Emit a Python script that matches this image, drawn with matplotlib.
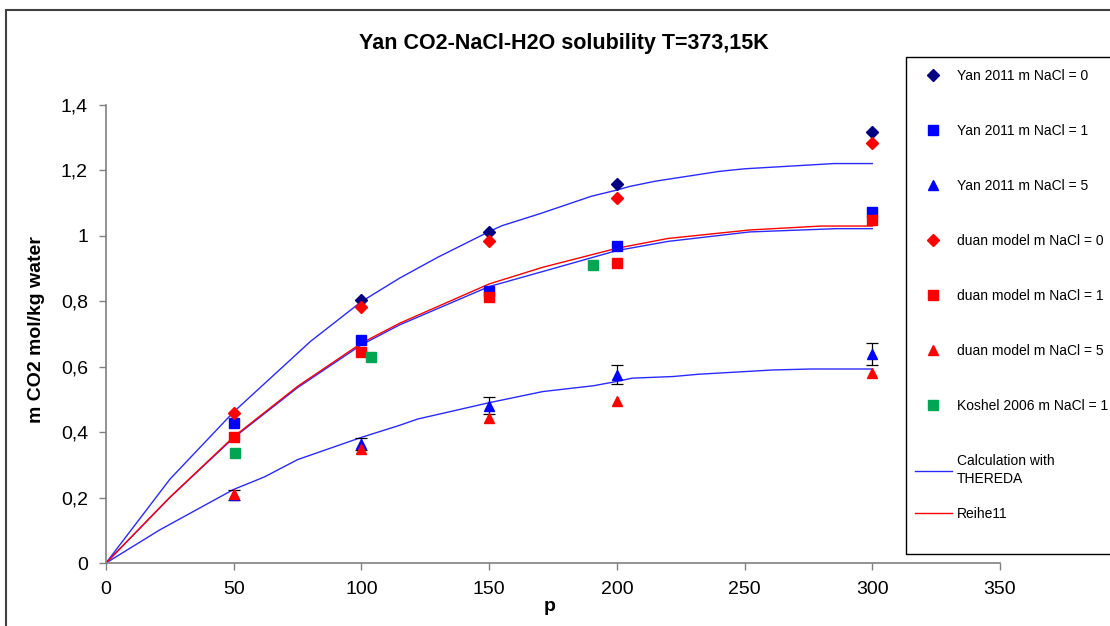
import matplotlib
matplotlib.use('Agg')
import matplotlib.pyplot as plt
from matplotlib.patches import Rectangle
from matplotlib.ticker import FuncFormatter

plt.rcParams['font.family'] = ['Liberation Sans', 'DejaVu Sans']

# measured data points (p in bar, m CO2 in mol/kg water)
p_yan = [50, 100, 150, 200, 300]
yan_0 = [None, 0.805, 1.013, 1.159, 1.316]
yan_1 = [0.429, 0.682, 0.830, 0.970, 1.074]
yan_5 = [0.208, 0.364, 0.481, 0.575, 0.639]
yan_5_err = [0.015, 0.018, 0.025, 0.029, 0.033]

p_duan = [50, 100, 150, 200, 300]
duan_0 = [0.460, 0.782, 0.983, 1.117, 1.284]
duan_1 = [0.385, 0.645, 0.812, 0.916, 1.049]
duan_5 = [0.211, 0.350, 0.444, 0.496, 0.581]

p_koshel = [50.4, 103.6, 190.8]
koshel_1 = [0.337, 0.629, 0.912]

# THEREDA calculations
p_calc0 = [0, 25, 50, 80, 100, 115, 130, 150, 155, 170, 190, 200, 205, 215, 240, 250, 285, 300]
calc_0 = [0, 0.256, 0.462, 0.677, 0.799, 0.871, 0.935, 1.013, 1.031, 1.068, 1.121, 1.140, 1.151, 1.167, 1.197, 1.205, 1.221, 1.221]

p_calc1 = [0, 25, 50, 75, 100, 115, 150, 171, 200, 220, 252, 286, 300]
calc_1 = [0, 0.200, 0.383, 0.536, 0.667, 0.728, 0.845, 0.891, 0.955, 0.983, 1.012, 1.022, 1.022]

p_calc5 = [0, 21, 50, 62, 75, 100, 115, 122, 150, 171, 191, 200, 206, 222, 232, 261, 276, 300]
calc_5 = [0, 0.101, 0.225, 0.263, 0.316, 0.384, 0.421, 0.440, 0.490, 0.524, 0.542, 0.555, 0.565, 0.570, 0.577, 0.590, 0.593, 0.593]

p_reihe = [0, 25, 50, 75, 100, 115, 150, 171, 200, 220, 252, 280, 300]
reihe11 = [0, 0.201, 0.386, 0.540, 0.672, 0.733, 0.853, 0.904, 0.962, 0.992, 1.018, 1.030, 1.030]

W, H = 1110, 626
fig = plt.figure(figsize=(W / 100, H / 100), dpi=100)
ax = fig.add_axes([106 / W, (H - 563) / H, (1000 - 106) / W, (563 - 105) / H])

blue_line = '#2a2aff'
ax.plot(p_calc0, calc_0, color=blue_line, lw=1.0, zorder=2, label='Calculation with\nTHEREDA')
ax.plot(p_calc1, calc_1, color=blue_line, lw=1.0, zorder=2)
ax.plot(p_calc5, calc_5, color=blue_line, lw=1.0, zorder=2)
ax.plot(p_reihe, reihe11, color='#ff0000', lw=1.0, zorder=2, label='Reihe11')

ax.plot(p_yan[1:], yan_0[1:], 'D', color='#000080', ms=6, ls='none', zorder=4, label='Yan 2011 m NaCl = 0')
ax.plot(p_yan, yan_1, 's', color='#0000ff', ms=6.5, ls='none', zorder=4, label='Yan 2011 m NaCl = 1')
ax.errorbar(p_yan, yan_5, yerr=yan_5_err, fmt='none', ecolor='black', elinewidth=0.9,
            capsize=4, capthick=0.9, zorder=3)
ax.plot(p_yan, yan_5, '^', color='#0000ff', ms=7.5, ls='none', zorder=4, label='Yan 2011 m NaCl = 5')
ax.plot(p_duan, duan_0, 'D', color='#ff0000', ms=6, ls='none', zorder=5, label='duan model m NaCl = 0')
ax.plot(p_duan, duan_1, 's', color='#ff0000', ms=6.5, ls='none', zorder=5, label='duan model m NaCl = 1')
ax.plot(p_duan, duan_5, '^', color='#ff0000', ms=7.5, ls='none', zorder=5, label='duan model m NaCl = 5')
ax.plot(p_koshel, koshel_1, 's', color='#00a651', ms=6.5, ls='none', zorder=5, label='Koshel 2006 m NaCl = 1')

ax.set_xlim(0, 350)
ax.set_ylim(0, 1.4)
ax.set_xticks(range(0, 351, 50))
ax.set_yticks([0, 0.2, 0.4, 0.6, 0.8, 1.0, 1.2, 1.4])


def comma(v, pos):
    s = f'{v:.1f}'
    if s.endswith('.0'):
        s = s[:-2]
    return s.replace('.', ',')


ax.yaxis.set_major_formatter(FuncFormatter(comma))
for s in ['top', 'right']:
    ax.spines[s].set_visible(False)
for s in ['left', 'bottom']:
    ax.spines[s].set_color('#808080')
    ax.spines[s].set_linewidth(1.2)
ax.tick_params(axis='both', direction='out', length=5, width=1, color='#808080', labelsize=14)
ax.tick_params(axis='x', pad=8)
ax.tick_params(axis='y', pad=8)

ax.set_xlabel('p', fontsize=14, fontweight='bold')
ax.xaxis.set_label_coords((550 - 106) / 894, (563 - 598) / 458)
ax.set_ylabel('m CO2 mol/kg water', fontsize=14, fontweight='bold')
ax.yaxis.set_label_coords((45 - 106) / 894, (563 - 330) / 458)

fig.text(564 / W, 1 - 43 / H, 'Yan CO2-NaCl-H2O solubility T=373,15K',
         ha='center', va='center', fontsize=15.5, fontweight='bold')

# legend, split in two so the last entry sits where the reference has it
handles, labels = ax.get_legend_handles_labels()
order = [2, 3, 4, 5, 6, 7, 8, 0]
leg_kw = dict(frameon=False, fontsize=10, handlelength=2.7, handletextpad=0.35,
              borderpad=0.62, borderaxespad=0, numpoints=1)
leg = fig.legend([handles[i] for i in order], [labels[i] for i in order],
                 loc='upper left', bbox_to_anchor=(906 / W, 1 - 60 / H),
                 labelspacing=2.96, **leg_kw)
leg.get_texts()[-1].set_linespacing(1.35)
fig.legend([handles[1]], [labels[1]], loc='center left',
           bbox_to_anchor=(906 / W, 1 - 514 / H), **leg_kw)
fig.add_artist(Rectangle((906 / W, 1 - 554 / H), (1120 - 906) / W, (554 - 57) / H,
                         transform=fig.transFigure, fill=False, edgecolor='black',
                         lw=1.0, clip_on=False))

# chart area frame
fig.add_artist(Rectangle((6 / W, -0.05), 1.1, 1 - 10 / H + 0.05,
                         transform=fig.transFigure, fill=False, edgecolor='#404040',
                         lw=1.5, clip_on=False))

fig.savefig('out.png', dpi=100)
